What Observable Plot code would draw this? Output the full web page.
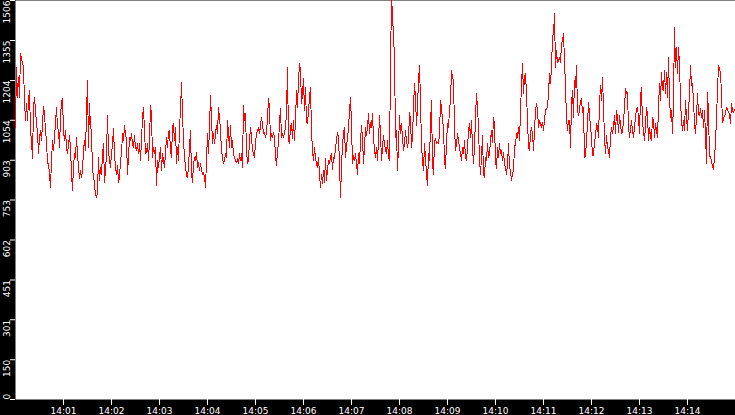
<!DOCTYPE html>
<html><head><meta charset="utf-8">
<script src="https://cdn.jsdelivr.net/npm/d3@7"></script>
<script src="https://cdn.jsdelivr.net/npm/@observablehq/plot@0.6"></script>
<style>html,body{margin:0;padding:0;background:#000;overflow:hidden;} #chart{width:735px;height:415px;}</style>
</head><body><div id="chart"></div>
<script>
const startTime = "14:00:00";
const stepSeconds = 1.25;
const values = [
1028,1254,1141,1216,1141,1305,1286,1273,1254,1128,
1053,1116,1053,1128,1166,1015,977,908,1103,1141,
1091,1040,1009,927,990,1015,977,1040,1106,1078,
1015,977,889,889,851,801,902,977,940,990,
1040,1103,1028,1015,952,1065,1128,1135,1015,977,
1015,952,927,965,996,952,851,789,877,927,
914,990,927,877,833,864,839,864,940,977,
940,1072,1204,952,1116,1028,1015,858,851,807,
776,761,782,914,826,877,851,927,965,820,
864,927,1072,940,902,877,927,965,1021,927,
877,851,883,820,839,902,927,1003,977,1034,
1003,977,851,914,990,977,1003,965,952,996,
952,940,965,927,965,902,977,1065,1103,1015,
927,933,965,902,977,1110,1078,914,952,927,
952,807,902,877,914,952,864,927,902,877,
927,990,952,1009,1015,940,914,1028,1040,977,
1028,889,952,902,1028,1091,1198,1078,977,914,
877,845,839,877,952,1015,851,820,889,914,
902,933,877,895,864,889,864,851,858,839,
801,902,1003,927,1028,1147,1065,965,1003,965,
1003,1034,1003,1103,1065,1015,940,914,889,902,
927,914,1053,1003,952,1034,952,977,927,914,
902,895,908,889,927,902,927,877,1110,1053,
1078,940,889,902,977,1028,
990,940,927,914,971,1003,1015,1028,1003,1034,
1065,1040,1003,1009,990,1003,1065,1135,1103,977,
1003,990,1009,990,921,883,940,965,1047,1097,
990,1003,990,1003,1028,1078,1254,977,965,1028,
1040,984,1053,977,1053,1166,1103,1204,1267,1242,
1116,1154,1210,1091,1179,1047,1040,1091,1141,1179,
1015,940,902,952,914,889,877,914,851,801,
851,814,864,820,908,826,864,902,889,921,
927,
870,914,908,952,977,1009,990,889,763,877,
965,1003,1028,914,952,990,1021,1091,1141,1040,
889,921,902,927,889,851,927,889,977,1034,
990,889,952,1028,996,1028,1078,1003,1047,1028,
1078,990,940,914,952,902,977,1072,1003,902,
952,996,965,940,927,977,914,902,1267,1506,
1468,1355,1305,990,1015,864,952,1072,1003,1040,
990,940,965,1015,977,952,977,1084,1053,952,
990,1103,
1191,1141,1034,1103,1204,1261,1128,958,902,864,
965,914,851,807,927,902,1040,1128,889,851,
977,984,965,971,965,1003,1128,1103,1053,1028,
902,870,971,1040,1028,1091,1128,1242,1216,1204,
1028,940,965,1003,977,952,927,902,952,927,
977,914,902,952,1015,1040,990,1053,952,889,
952,1065,1154,1103,1028,902,851,914,996,851,
839,914,902,965,914,927,977,1015,971,1065,
1040,902,
870,952,914,965,927,940,902,933,889,877,
851,889,965,877,864,826,851,864,952,965,
1003,990,1028,977,1084,1191,1267,1154,1216,1229,
1154,1053,952,940,1003,1028,1003,940,1015,1091,
1116,1091,1028,1053,1040,1028,1047,1015,1053,1091,
1097,1103,1154,1229,1191,1254,1368,1380,1456,1254,
1317,1273,1279,1292,1273,1342,1355,1380,1279,1179,
1065,1015,1053,1053,952,1116,1166,1065,1204,1179,
1261,1091,
1072,1091,1128,1135,1084,1103,914,921,977,1040,
1122,1078,1028,990,921,921,977,990,1040,1028,
990,1116,1185,1128,1216,1103,990,927,996,952,
940,914,990,1028,1003,1028,1072,1003,1091,1065,
1009,1072,1040,1003,1009,1053,1103,1172,1154,1160,
1028,990,1021,1053,1015,990,1028,1065,1097,1103,
1065,1003,1141,1179,1040,1015,977,1034,1103,1072,
977,1028,990,977,1065,1053,990,1040,
1015,990,1103,1191,1128,1235,1172,1166,1242,1154,
1235,1141,1292,1141,1065,1091,1003,1128,1405,1254,
1330,1229,1330,1267,1128,1053,1015,1053,1015,1128,
1065,1015,1091,1154,1261,1185,1191,1128,1040,1003,
1065,1154,1078,1072,1097,1065,1091,1028,1091,1003,
889,1160,1078,921,914,902,877,870,914,965,
1065,1166,1261,1248,1235,1154,1047,1059,1072,1078,
1103,1097,1084,1078,1040,1116,1091,1084,1091,1097
];
const xTickLabels = ["14:01","14:02","14:03","14:04","14:05","14:06","14:07","14:08","14:09","14:10","14:11","14:12","14:13","14:14"];
const yTickLabels = [0,150,301,451,602,753,903,1054,1204,1355,1506];
const yMax = 1506;

const toDate = s => { const [h, m, sec] = s.split(":").map(Number); return new Date(Date.UTC(2020, 0, 1, h, m, sec || 0)); };
const t0 = toDate(startTime);
const data = values.map((v, i) => ({time: new Date(t0.getTime() + i * stepSeconds * 1000), value: v}));
const tEnd = data[data.length - 1].time;
const xTicks = xTickLabels.map(toDate);
const fmtY = d => String(d);

const chart = Plot.plot({
  width: 735, height: 415,
  marginLeft: 15, marginRight: 0, marginTop: 0, marginBottom: 16,
  style: {background: "#000", color: "#fff", fontFamily: "'DejaVu Sans', sans-serif", fontSize: "9px", overflow: "visible"},
  x: {type: "utc", domain: [t0, tEnd]},
  y: {domain: [0, yMax]},
  marks: [
    Plot.frame({fill: "#fff", stroke: "none"}),
    Plot.line(data, {x: "time", y: "value", stroke: "#ff0000", strokeWidth: 1, shapeRendering: "crispEdges"}),
    Plot.axisX({ticks: xTicks, tickFormat: d3.utcFormat("%H:%M"), tickSize: 6, tickPadding: 2, label: null}),
    Plot.axisY({ticks: yTickLabels.slice(1), tickFormat: fmtY, tickSize: 5, tickPadding: 0.5, tickRotate: -90, textAnchor: "end", lineAnchor: "bottom", label: null}),
    Plot.axisY({ticks: yTickLabels.slice(0, 1), tickFormat: fmtY, tickSize: 5, tickPadding: 0.5, tickRotate: -90, textAnchor: "start", lineAnchor: "bottom", label: null})
  ]
});
document.getElementById("chart").appendChild(chart);
</script>
</body></html>
